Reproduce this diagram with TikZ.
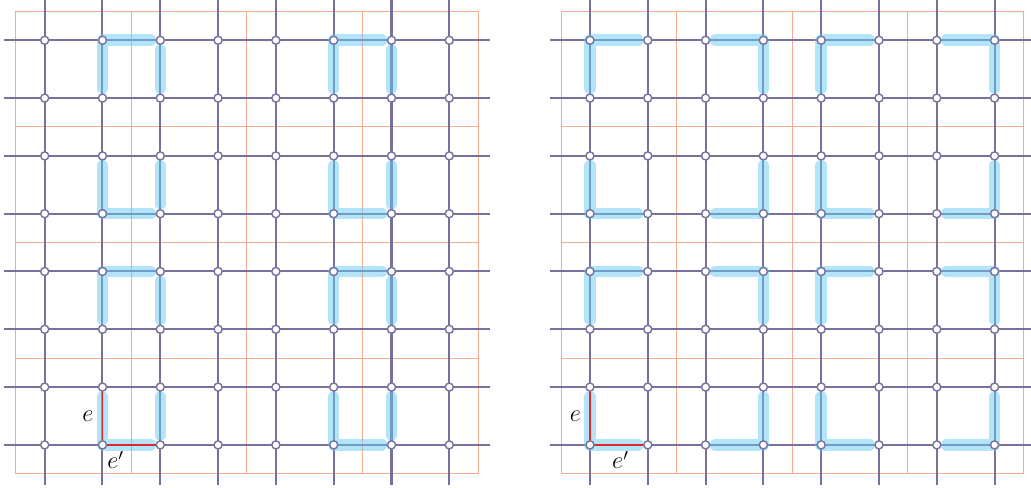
\documentclass[tikz,border=0pt]{standalone}
\usepackage{tikz}
\usetikzlibrary{positioning, backgrounds, calc}
\definecolor{gridc}{HTML}{76729D}
\definecolor{dualc}{HTML}{F5AB8D}
\definecolor{hlc}{HTML}{69C9F1}
\definecolor{rede}{HTML}{E0282C}

\begin{document}
\begin{tikzpicture}[
  vtx/.style   = {circle, draw=gridc, fill=white, line width=0.7pt,
                  inner sep=0pt, minimum size=0.14cm},
  lat/.style   = {draw=gridc, line width=1pt},
  dual/.style  = {draw=dualc, line width=0.5pt},
  hl/.style    = {draw=hlc, opacity=0.5, line width=0.2cm, line cap=round,
                  line join=round, shorten <=0.17cm, shorten >=0.17cm},
  redge/.style = {draw=rede, line width=0.8pt},
  lbl/.style   = {font=\large, inner sep=0pt}
]
\useasboundingbox (-0.773,-0.744) rectangle (17.064,7.697);
\clip (-0.773,-0.744) rectangle (17.064,7.697);

% left lattice
\foreach \i in {0,...,7}
  \foreach \j in {0,...,7}
    \node[vtx] (a-\i-\j) at (\i,\j) {};

\begin{scope}[on background layer]
  \draw[dual, shift={(-0.5,-0.5)}] (0,0) grid[step=2] (8,8);
  \foreach \k in {0,...,7} {
    \draw[lat] (\k,-0.7) -- (\k,7.7);
    \draw[lat] (-0.7,\k) -- (7.7,\k);
  }
  \foreach \x/\xn in {1/2, 5/6}
    \foreach \y/\yn in {7/6, 4/5, 3/2, 0/1} {
      \draw[hl] (a-\xn-\y.center) -- (a-\x-\y.center) -- (a-\x-\yn.center);
      \draw[hl] (a-\xn-\y.center) -- (a-\xn-\yn.center);
    }
  \draw[redge] (a-1-1) -- (a-1-0.center) -- (a-2-0);
\end{scope}

\node[lbl, left=0.15cm of $(a-1-1)!0.5!(a-1-0)$] (e-a) {$e$};
\node[lbl, below=0.1cm of $(a-1-0)!0.23!(a-2-0)$] (ep-a) {$e'$};

% right lattice
\begin{scope}[xshift=9.434cm]
\foreach \i in {0,...,7}
  \foreach \j in {0,...,7}
    \node[vtx] (b-\i-\j) at (\i,\j) {};

\begin{scope}[on background layer]
  \draw[dual, shift={(-0.5,-0.5)}] (0,0) grid[step=2] (8,8);
  \foreach \k in {0,...,7} {
    \draw[lat] (\k,-0.7) -- (\k,7.7);
    \draw[lat] (-0.7,\k) -- (7.7,\k);
  }
  \foreach \x/\xn in {0/1, 3/2, 4/5, 7/6}
    \foreach \y/\yn in {7/6, 4/5, 3/2, 0/1}
      \draw[hl] (b-\xn-\y.center) -- (b-\x-\y.center) -- (b-\x-\yn.center);
  \draw[redge] (b-0-1) -- (b-0-0.center) -- (b-1-0);
\end{scope}

\node[lbl, left=0.15cm of $(b-0-1)!0.5!(b-0-0)$] (e-b) {$e$};
\node[lbl, below=0.1cm of $(b-0-0)!0.53!(b-1-0)$] (ep-b) {$e'$};
\end{scope}
\end{tikzpicture}
\end{document}
